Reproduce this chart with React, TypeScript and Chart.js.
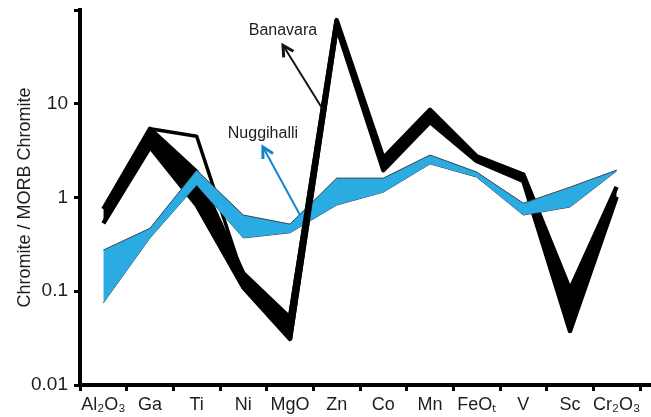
import React, { useEffect, useRef } from 'react';
import { Chart, registerables } from 'chart.js';

Chart.register(...registerables);

const categories = ['Al₂O₃', 'Ga', 'Ti', 'Ni', 'MgO', 'Zn', 'Co', 'Mn', 'FeOₜ', 'V', 'Sc', 'Cr₂O₃'];

const banavaraUpper = [0.75, 5.4, 1.87, 0.155, 0.052, 78, 2.64, 8.6, 2.75, 1.75, 0.104, 1.3];
const banavaraLower = [0.53, 3.46, 0.83, 0.11, 0.031, 66, 1.96, 6.4, 2.45, 1.5, 0.0377, 1.02];
const banavaraTiBranch = [null, 5.4, 4.5, 0.14, null, null, null, null, null, null, null, null];

const nuggihalliUpper = [0.275, 0.47, 1.96, 0.65, 0.52, 1.61, 1.61, 2.84, 1.87, 0.87, 1.29, 1.96];
const nuggihalliLower = [0.075, 0.37, 1.36, 0.37, 0.42, 0.83, 1.14, 2.28, 1.65, 0.65, 0.79, 1.92];

const yTicks = [0.01, 0.1, 1, 10, 100];
const yTickLabels = ['0.01', '0.1', '1', '10', ''];

// annotations in data space: [xIndex, value]
const banavaraLabel = { text: 'Banavara', x: 3.85, y: 60 };
const banavaraArrow = { from: [4.685, 9.0], to: [3.85, 42] };
const nuggihalliLabel = { text: 'Nuggihalli', x: 3.42, y: 4.76 };
const nuggihalliArrow = { from: [4.214, 0.65], to: [3.42, 3.46] };

const FONT = '"Liberation Sans", Arial, Helvetica, sans-serif';
const BLACK = '#000000';
const BLUE = '#2AABE2';
const BLUE_EDGE = '#38454f';
const TEXT = '#1e1e1e';

const overlaySeg = (arr: number[]) => arr.map((v, i) => (i === 4 || i === 5 ? v : null));

const annotPlugin = {
  id: 'annot',
  afterDraw(chart: any) {
    const { ctx, scales, chartArea } = chart;
    const xs = scales.x;
    const ys = scales.y;
    ctx.save();
    // extend x axis line to the right edge
    ctx.strokeStyle = BLACK;
    ctx.lineWidth = 4;
    ctx.beginPath();
    ctx.moveTo(chartArea.right - 2, chartArea.bottom);
    ctx.lineTo(chart.width, chartArea.bottom);
    ctx.stroke();

    const drawArrow = (a: any, color: string, width: number) => {
      const x1 = xs.getPixelForValue(a.from[0]);
      const y1 = ys.getPixelForValue(a.from[1]);
      const x2 = xs.getPixelForValue(a.to[0]);
      const y2 = ys.getPixelForValue(a.to[1]);
      ctx.strokeStyle = color;
      ctx.lineWidth = width;
      ctx.lineCap = 'butt';
      ctx.beginPath();
      ctx.moveTo(x1, y1);
      ctx.lineTo(x2, y2);
      ctx.stroke();
      const ang = Math.atan2(y2 - y1, x2 - x1);
      const len = 12;
      ctx.lineWidth = width + 1;
      ctx.lineJoin = 'miter';
      ctx.beginPath();
      ctx.moveTo(x2 - len * Math.cos(ang - 0.5), y2 - len * Math.sin(ang - 0.5));
      ctx.lineTo(x2, y2);
      ctx.lineTo(x2 - len * Math.cos(ang + 0.5), y2 - len * Math.sin(ang + 0.5));
      ctx.stroke();
    };
    drawArrow(banavaraArrow, '#151515', 2);
    drawArrow(nuggihalliArrow, '#1684cc', 2);

    ctx.fillStyle = TEXT;
    ctx.font = '16px ' + FONT;
    ctx.textAlign = 'center';
    ctx.textBaseline = 'middle';
    for (const l of [banavaraLabel, nuggihalliLabel]) {
      ctx.fillText(l.text, xs.getPixelForValue(l.x), ys.getPixelForValue(l.y));
    }
    ctx.restore();
  },
};

export default function App() {
  const ref = useRef<HTMLCanvasElement | null>(null);
  useEffect(() => {
    if (!ref.current) return;
    const blackLine = (data: any[], order: number, fill: any) => ({
      data,
      order,
      fill,
      borderColor: BLACK,
      backgroundColor: BLACK,
      borderWidth: 4.5,
      borderJoinStyle: 'round',
      pointRadius: 0,
      tension: 0,
      spanGaps: false,
    });
    const chart = new Chart(ref.current, {
      type: 'line',
      data: {
        labels: categories,
        datasets: [
          blackLine(banavaraLower, 10, false) as any,
          blackLine(banavaraUpper, 9, '-1') as any,
          { ...blackLine(banavaraTiBranch, 8, false), borderWidth: 3.5 } as any,
          {
            data: nuggihalliLower,
            order: 6,
            fill: false,
            borderColor: BLUE_EDGE,
            backgroundColor: BLUE,
            borderWidth: 1,
            pointRadius: 0,
            tension: 0,
          },
          {
            data: nuggihalliUpper,
            order: 5,
            fill: '-1',
            borderColor: BLUE_EDGE,
            backgroundColor: BLUE,
            borderWidth: 1,
            pointRadius: 0,
            tension: 0,
          },
          blackLine(overlaySeg(banavaraLower), 2, false) as any,
          blackLine(overlaySeg(banavaraUpper), 1, '-1') as any,
        ],
      },
      options: {
        animation: false,
        responsive: false,
        maintainAspectRatio: false,
        layout: { padding: { top: 10, right: 11, left: 0, bottom: 0 } },
        plugins: {
          legend: { display: false },
          tooltip: { enabled: false },
        },
        scales: {
          x: {
            type: 'category',
            offset: true,
            grid: {
              offset: true,
              drawOnChartArea: false,
              drawTicks: true,
              tickLength: 6,
              tickWidth: 3,
              tickColor: BLACK,
              color: BLACK,
            },
            border: { display: true, width: 4, color: BLACK },
            ticks: {
              autoSkip: false,
              maxRotation: 0,
              minRotation: 0,
              padding: 3,
              color: TEXT,
              font: { family: FONT, size: 18 },
            },
            afterFit: (s: any) => {
              s.height = 32;
              s.paddingLeft = 0;
              s.paddingRight = 0;
            },
          },
          y: {
            type: 'logarithmic',
            min: 0.01,
            max: 100,
            afterBuildTicks: (s: any) => {
              s.ticks = yTicks.map((v) => ({ value: v }));
            },
            afterFit: (s: any) => {
              s.width = 80;
              s.paddingTop = 0;
              s.paddingBottom = 0;
            },
            grid: {
              drawOnChartArea: false,
              drawTicks: true,
              tickLength: 6,
              tickWidth: 3,
              tickColor: BLACK,
              color: BLACK,
            },
            border: { display: true, width: 4, color: BLACK },
            ticks: {
              padding: 6,
              color: TEXT,
              font: { family: FONT, size: 19 },
              callback: (v: any) => {
                const i = yTicks.indexOf(Number(v));
                return i >= 0 ? yTickLabels[i] : '';
              },
            },
            title: {
              display: true,
              text: 'Chromite / MORB Chromite',
              color: TEXT,
              font: { family: FONT, size: 18 },
              padding: { top: 14, bottom: 0 },
            },
          },
        },
      },
      plugins: [annotPlugin],
    } as any);
    return () => chart.destroy();
  }, []);

  return (
    <div style={{ position: 'fixed', left: 0, top: 0, width: 651, height: 417, background: '#fff' }}>
      <canvas ref={ref} width={651} height={417} style={{ display: 'block' }} />
    </div>
  );
}
